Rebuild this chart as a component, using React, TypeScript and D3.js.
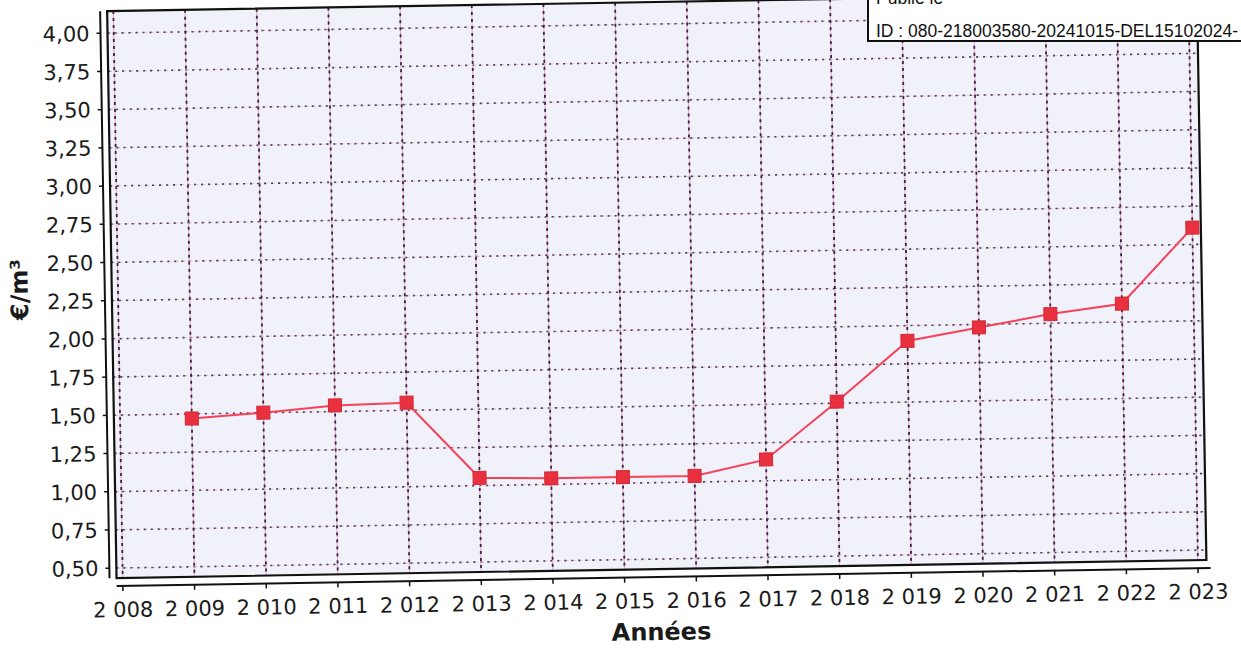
import * as d3 from "d3";

// prix de l'eau, €/m³ par année
const years = [2009, 2010, 2011, 2012, 2013, 2014, 2015, 2016, 2017, 2018, 2019, 2020, 2021, 2022, 2023];
const prices = [1.47, 1.50, 1.54, 1.55, 1.05, 1.04, 1.04, 1.04, 1.14, 1.51, 1.90, 1.98, 2.06, 2.12, 2.61];
const xTicks = [2008, 2009, 2010, 2011, 2012, 2013, 2014, 2015, 2016, 2017, 2018, 2019, 2020, 2021, 2022, 2023];
const yTicks = [0.5, 0.75, 1, 1.25, 1.5, 1.75, 2, 2.25, 2.5, 2.75, 3, 3.25, 3.5, 3.75, 4];
const stampLines = ["Publié le", "ID : 080-218003580-20241015-DEL15102024-"];

const width = 1241;
const height = 648;
const plot = { left: 112, right: 1202, top: 2, bottom: 569 };

const fmt = (v: number) => v.toFixed(2).replace(".", ",");
const fmtYear = (y: number) => {
  const s = String(y);
  return s.slice(0, 1) + " " + s.slice(1);
};

export default function App() {
  const x = d3.scaleLinear().domain([2008, 2023]).range([118.2, 1193.5]);
  const y = d3.scaleLinear().domain([0.5, 4]).range([559, 24]);

  const pts = years.map((yr, i) => [x(yr), y(prices[i])] as [number, number]);
  const line = d3.line()(pts) || "";

  const axisX = 105; // ligne de l'axe Y, décalée du cadre
  const axisY = 577;
  const sq = 13;

  return (
    <svg width={width} height={height} style={{ position: "absolute", left: 0, top: 0 }}>
      <rect width={width} height={height} fill="#ffffff" />
      {/* scan légèrement tourné */}
      <g transform="rotate(-0.95, 660, 300)" fontFamily="DejaVu Sans, sans-serif">
        <rect x={plot.left} y={plot.top} width={plot.right - plot.left} height={plot.bottom - plot.top} fill="#f1f1fa" />

        {yTicks.map((t) => (
          <g key={"hy" + t}>
            <line x1={plot.left} x2={plot.right} y1={y(t)} y2={y(t)} stroke="#eab4d6" strokeWidth={1} strokeDasharray="4,3" />
            <line x1={plot.left} x2={plot.right} y1={y(t)} y2={y(t)} stroke="#4e3e56" strokeWidth={1.6} strokeDasharray="2,5" />
          </g>
        ))}
        {xTicks.map((t) => (
          <g key={"vx" + t}>
            <line x1={x(t)} x2={x(t)} y1={plot.top} y2={plot.bottom} stroke="#e4a0cc" strokeWidth={1} />
            <line x1={x(t)} x2={x(t)} y1={plot.top} y2={plot.bottom} stroke="#34283a" strokeWidth={1.8} strokeDasharray="3,4" />
          </g>
        ))}

        <rect x={plot.left} y={plot.top} width={plot.right - plot.left} height={plot.bottom - plot.top} fill="none" stroke="#111" strokeWidth={2.2} />

        <path d={line} fill="none" stroke="#f5415a" strokeWidth={2} />
        {pts.map(([px, py], i) => (
          <rect key={"p" + i} x={px - sq / 2} y={py - sq / 2} width={sq} height={sq} fill="#e8303e" stroke="#d02a36" strokeWidth={1} />
        ))}

        {/* axe Y */}
        <line x1={axisX} x2={axisX} y1={plot.top} y2={plot.bottom} stroke="#111" strokeWidth={2} />
        {yTicks.map((t) => (
          <g key={"ty" + t}>
            <line x1={axisX - 4} x2={axisX} y1={y(t)} y2={y(t)} stroke="#111" strokeWidth={1.5} />
            <text x={axisX - 11} y={y(t)} dy="0.36em" textAnchor="end" fontSize={21} fill="#1a1a1a">
              {fmt(t)}
            </text>
          </g>
        ))}
        <text transform={`translate(28,279) rotate(-90)`} textAnchor="middle" fontSize={24} fontWeight="bold" fill="#1a1a1a">
          €/m³
        </text>

        {/* axe X */}
        <line x1={plot.left} x2={plot.right + 4} y1={axisY} y2={axisY} stroke="#111" strokeWidth={2} />
        {xTicks.map((t) => (
          <g key={"tx" + t}>
            <line x1={x(t)} x2={x(t)} y1={axisY} y2={axisY + 5} stroke="#111" strokeWidth={1.5} />
            <text x={x(t)} y={608} textAnchor="middle" fontSize={21} fill="#1a1a1a">
              {fmtYear(t)}
            </text>
          </g>
        ))}
        <text x={656} y={640} textAnchor="middle" fontSize={24} fontWeight="bold" fill="#1a1a1a">
          Années
        </text>
      </g>

      {/* tampon en haut à droite */}
      <g fontFamily="Liberation Sans, Arial, sans-serif" fill="#111">
        <rect x={868} y={-10} width={400} height={51} fill="#ffffff" stroke="#111" strokeWidth={2} />
        <text x={876} y={4} fontSize={17.5}>{stampLines[0]}</text>
        <text x={876} y={37} fontSize={17.5}>{stampLines[1]}</text>
      </g>
    </svg>
  );
}
